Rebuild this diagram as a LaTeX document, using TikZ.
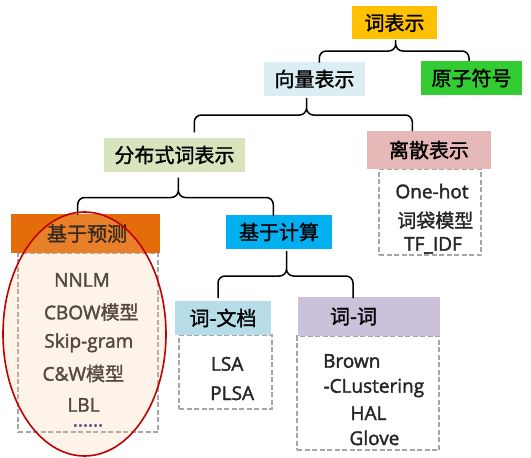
\documentclass[tikz,border=0pt]{standalone}
\usepackage{fontspec}
\setmainfont{Open Sans}[FakeBold=2]
\newfontfamily\cjk{Noto Sans CJK SC}[FakeBold=1.5]
\usetikzlibrary{calc,shapes.geometric}
\definecolor{cGold}{HTML}{FFC000}
\definecolor{cVec}{HTML}{DAEEF3}
\definecolor{cGreen}{HTML}{33CC33}
\definecolor{cOlive}{HTML}{D7E4BD}
\definecolor{cPink}{HTML}{E6B9B8}
\definecolor{cOrange}{HTML}{E46C0A}
\definecolor{cCyan}{HTML}{00B0F0}
\definecolor{cLblue}{HTML}{B7DEE8}
\definecolor{cLav}{HTML}{CCC1DA}
\definecolor{cText}{HTML}{262626}
\definecolor{cDash}{HTML}{A6A6A6}
\definecolor{cRed}{HTML}{C00000}
\definecolor{cEllFill}{HTML}{F5C89B}
\definecolor{cNavy}{HTML}{2A2A80}
\tikzset{
  hd/.style={inner sep=0pt, text=black, font=\cjk\fontsize{20}{24}\selectfont},
  lst/.style={draw=cDash, dash pattern=on 5pt off 2.5pt, line width=1.3pt, inner sep=0pt},
  itm/.style={anchor=base, inner sep=0pt, text=cText, font=\fontsize{19}{22}\selectfont},
  brc/.style={draw=black, line width=1.5pt, rounded corners=7pt},
  ovalmark/.style={ellipse, draw=cRed, line width=1.6pt, fill=cEllFill, fill opacity=0.22, draw opacity=1, inner sep=0pt}
}
\newcommand\curlyjoin[4]{%
  \draw[brc] let \p1=(#1), \p2=(#2), \p3=(#3), \p4=(#4) in
    (\p2) -- (\x2,\y4) -- (\x1,\y4) -- (\p1)
    (\p3) -- (\x3,\y4) -- (\x1,\y4) -- (\p1);}
\begin{document}
\begin{tikzpicture}[x=1pt,y=-1pt]
\useasboundingbox (0,0) rectangle (531,458);
% dashed list boxes
\node[lst, minimum width=102, minimum height=86] (l1) at (430,212) {};
\node[lst, minimum width=140, minimum height=179] (l2) at (88,342.5) {};
\node[lst, minimum width=93, minimum height=74] (l3) at (225.5,372) {};
\node[lst, minimum width=142, minimum height=114] (l4) at (368,393) {};
% heading boxes
\node[hd, fill=cGold, minimum width=85, minimum height=33.5] (ci) at (394.5,22.7) {词表示};
\node[hd, fill=cVec, minimum width=101, minimum height=34] (vec) at (314.5,79) {向量表示};
\node[hd, fill=cGreen, minimum width=101, minimum height=34] (atom) at (471.5,78) {原子符号};
\node[hd, fill=cOlive, minimum width=141, minimum height=34] (dist) at (174.5,155) {分布式词表示};
\node[hd, fill=cPink, minimum width=124, minimum height=38] (disc) at (429,150) {离散表示};
\node[hd, fill=cOrange, minimum width=149, minimum height=39] (pred) at (85.5,233.5) {\hspace*{3pt}基于预测};
\node[hd, fill=cCyan, minimum width=106, minimum height=34] (calc) at (279,232) {基于计算};
\node[hd, fill=cLblue, minimum width=96, minimum height=34] (wd) at (223,318) {词-文档};
\node[hd, fill=cLav, minimum width=142, minimum height=39] (ww) at (369,316.5) {\makebox[142pt][l]{\hspace*{32pt}词-词}};
% list items
\node[itm] (onehot) at (432,198.3) {One-hot};
\node[itm, anchor=center, font=\cjk\fontsize{19}{22}\selectfont] (bow) at (435.3,220.3) {词袋模型};
\node[itm] (tfidf) at (433,250.7) {TF\_IDF};
\node[itm] (nnlm) at (82,286.7) {NNLM};
\node[itm] (cbow) at (91.3,319.3) {CBOW{\cjk 模型}};
\node[itm] (skip) at (88.8,347.7) {Skip-gram};
\node[itm] (cw) at (83.3,380.7) {C\&W{\cjk 模型}};
\node[itm] (lbl) at (83.5,411.7) {LBL};
\node[itm, text=cNavy] (dots) at (88,426.5) {......};
\node[itm] (lsa) at (227.2,370.7) {LSA};
\node[itm] (plsa) at (232.2,400) {PLSA};
\node[itm, anchor=base west] (brown) at (323,367.7) {Brown};
\node[itm, anchor=base west] (clus) at (323.3,392.7) {-CLustering};
\node[itm] (hal) at (368.5,420) {HAL};
\node[itm] (glove) at (374.5,445) {Glove};
% brace points
\coordinate (t1) at (395.7,40);  \coordinate (a1) at (319.3,62.7); \coordinate (b1) at (469,61);   \coordinate (h1) at (0,51);
\coordinate (t2) at (306.5,98);  \coordinate (a2) at (194.3,132.3); \coordinate (b2) at (412.3,131); \coordinate (h2) at (0,115);
\coordinate (t3) at (178.3,177.5); \coordinate (a3) at (77.7,215); \coordinate (b3) at (273.3,216); \coordinate (h3) at (0,197.5);
\coordinate (t4) at (286.5,251); \coordinate (a4) at (218,298);   \coordinate (b4) at (353,298);   \coordinate (h4) at (0,276);
\curlyjoin{t1}{a1}{b1}{h1}
\curlyjoin{t2}{a2}{b2}{h2}
\curlyjoin{t3}{a3}{b3}{h3}
\curlyjoin{t4}{a4}{b4}{h4}
% oval highlight
\node[ovalmark, minimum width=163, minimum height=244] (oval) at (84.5,334) {};
\end{tikzpicture}
\end{document}
